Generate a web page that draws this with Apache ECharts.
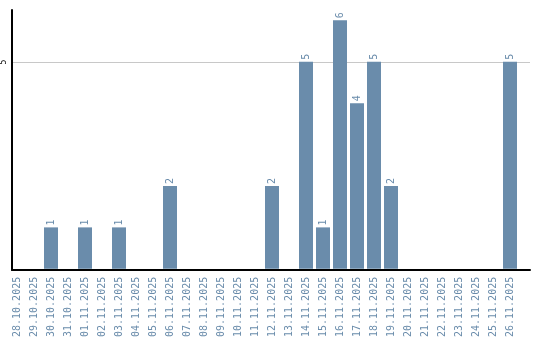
<!DOCTYPE html>
<html><head><meta charset="utf-8">
<script src="https://cdn.jsdelivr.net/npm/echarts@6/dist/echarts.min.js"></script>
<style>html,body{margin:0;padding:0;background:#fff}#c{width:540px;height:340px}</style>
</head><body><div id="c"></div>
<script>
const categories = ["28.10.2025","29.10.2025","30.10.2025","31.10.2025","01.11.2025","02.11.2025","03.11.2025","04.11.2025","05.11.2025","06.11.2025","07.11.2025","08.11.2025","09.11.2025","10.11.2025","11.11.2025","12.11.2025","13.11.2025","14.11.2025","15.11.2025","16.11.2025","17.11.2025","18.11.2025","19.11.2025","20.11.2025","21.11.2025","22.11.2025","23.11.2025","24.11.2025","25.11.2025","26.11.2025"];
const counts = [0,0,1,0,1,0,1,0,0,2,0,0,0,0,0,2,0,5,1,6,4,5,2,0,0,0,0,0,0,5];
const yTicks = [0,5];
const yMax = 6.25;

const barColor = '#6a8cab';
const chart = echarts.init(document.getElementById('c'), null, {renderer:'canvas'});
chart.setOption({
  animation:false,
  grid:[
    {left:8.5, right:21.5, top:10, bottom:70},
    {left:10.5, right:10, top:10, bottom:70}
  ],
  xAxis:[
    {type:'category', gridIndex:0, data:categories, boundaryGap:true,
     axisLine:{show:false}, axisTick:{show:false},
     axisLabel:{rotate:90, interval:0, margin:8, color:barColor, fontFamily:'DejaVu Sans Mono', fontSize:10}},
    {type:'value', gridIndex:1, min:0, max:1, axisLabel:{show:false}, axisTick:{show:false}, splitLine:{show:false},
     axisLine:{show:true, lineStyle:{color:'#000', width:2}}}
  ],
  yAxis:[
    {type:'value', gridIndex:0, min:0, max:yMax, interval:5, show:false, splitLine:{show:false}},
    {type:'value', gridIndex:1, min:yTicks[0], max:yMax, interval:yTicks[1]-yTicks[0],
     axisLine:{show:true, lineStyle:{color:'#000', width:2}}, axisTick:{show:false},
     axisLabel:{rotate:90, margin:4, color:'#000', fontFamily:'DejaVu Sans Mono', fontSize:8,
       formatter:v=> (v===0||v>6)?'':String(v)},
     splitLine:{show:true, lineStyle:{color:['rgba(0,0,0,0)','#c8c8c8','rgba(0,0,0,0)'], width:1}}}
  ],
  series:[{
    type:'bar', xAxisIndex:0, yAxisIndex:0, data:counts.map(v=>v===0?null:v),
    barWidth:14, itemStyle:{color:barColor},
    label:{show:true, position:'top', rotate:90, align:'left', verticalAlign:'middle', distance:2,
      color:barColor, fontFamily:'DejaVu Sans Mono', fontSize:10}
  }]
});
</script></body></html>
